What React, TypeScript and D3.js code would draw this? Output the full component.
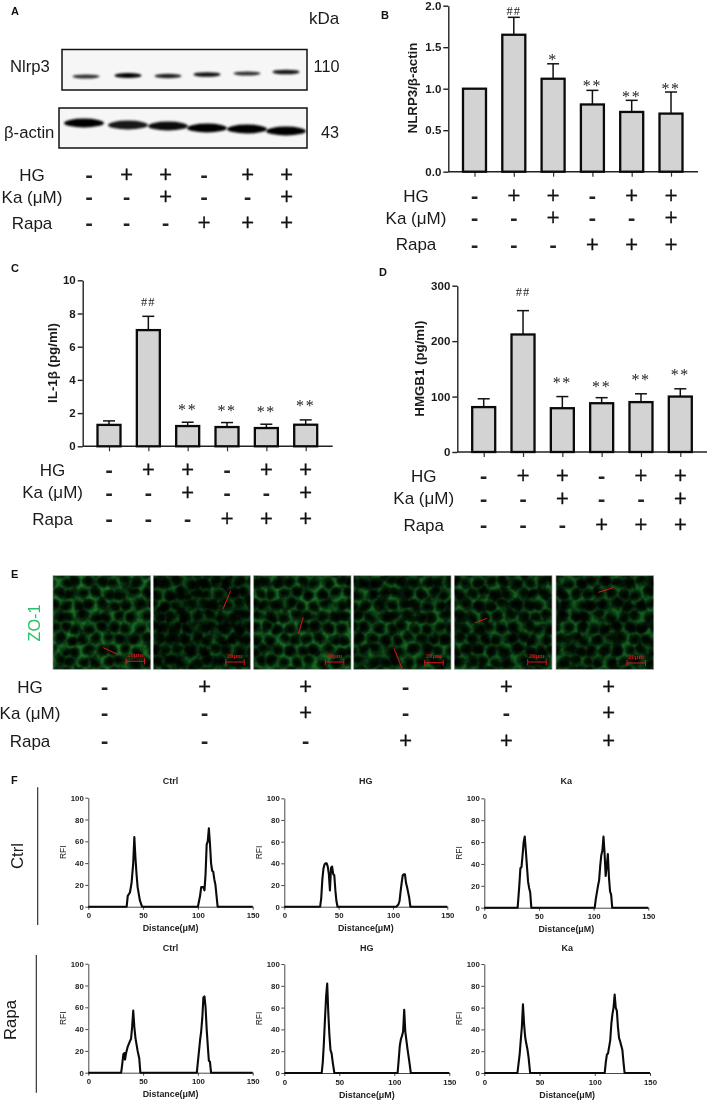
import React, { useEffect, useRef } from 'react'
import * as d3 from 'd3'

const SANS = '"Liberation Sans", Arial, sans-serif'
const SERIF = '"Liberation Serif", serif'
const DEJAVU = '"DejaVu Sans", sans-serif'

// treatment rows shared by every panel
const rowLabels = ['HG', 'Ka (μM)', 'Rapa']
const hgSigns = ['-', '+', '+', '-', '+', '+']
const kaSigns = ['-', '-', '+', '-', '-', '+']
const rapaSigns = ['-', '-', '-', '+', '+', '+']
const signRows = [hgSigns, kaSigns, rapaSigns]

// bar panels
const nlrp3Values = [1, 1.65, 1.12, 0.81, 0.72, 0.7]
const nlrp3Errors = [1, 1.86, 1.3, 0.98, 0.86, 0.96]
const nlrp3Marks = ['', '##', '*', '**', '**', '**']
const nlrp3MarkLevels = [0, 1.94, 1.38, 1.07, 0.94, 1.03]
const nlrp3Ticks = [0, 0.5, 1, 1.5, 2]

const il1Values = [1.29, 7, 1.22, 1.16, 1.1, 1.3]
const il1Errors = [1.53, 7.83, 1.45, 1.43, 1.33, 1.59]
const il1Marks = ['', '##', '**', '**', '**', '**']
const il1MarkLevels = [0, 8.71, 2.39, 2.33, 2.23, 2.63]
const il1Ticks = [0, 2, 4, 6, 8, 10]

const hmgb1Values = [81, 212, 79, 88, 90, 100]
const hmgb1Errors = [96, 255, 100, 98, 105, 114]
const hmgb1Marks = ['', '##', '**', '**', '**', '**']
const hmgb1MarkLevels = [0, 289, 130, 123, 136, 145]
const hmgb1Ticks = [0, 100, 200, 300]

// western blot band strength, per lane
const nlrp3Bands = [0.62, 1, 0.75, 0.85, 0.62, 0.82]
const actinBands = [1, 0.9, 0.95, 1, 1, 1]

// ZO-1 image brightness, per panel
const zoBrightness = [0.95, 0.5, 0.9, 0.75, 0.7, 0.7]

// RFI line profiles: [distance, RFI]
const ctrlCtrl = [[0,0],[35,0],[36,10],[38,13],[39.5,22],[41,40],[42,64],[43,45],[44,30],[45,18],[47,6],[49,0],[100,0],[102,10],[103,18],[105,18],[106,15],[107,30],[108,57],[109,60],[110,72],[111,58],[112,40],[113,33],[114,32],[115,25],[116,20],[117,10],[118,0],[150,0]]
const ctrlHg = [[0,0],[33,0],[34,8],[35,25],[36,35],[37,39],[38,40],[39,40],[40,37],[41,30],[42,15],[43,36],[44,37],[45,30],[46,29],[47,15],[48,5],[49,0],[103,0],[105,2],[106,5],[107,14],[108,22],[109,29],[110,30],[111,30],[112,22],[113,18],[114,13],[115,8],[116,0],[150,0]]
const ctrlKa = [[0,0],[30.5,0],[32,20],[33,36],[34,37],[35,48],[36,60],[37,65],[38,52],[39,38],[40,24],[41,18],[42,14],[43,0],[101,0],[102,8],[104,20],[105,25],[106,38],[107,48],[108,52],[109,65],[110,50],[111,29],[112,38],[113,49],[114,28],[115,15],[116,12],[117,0],[150,0]]
const rapaCtrl = [[0,0],[30,0],[31,8],[32,17],[33,18],[33.5,12],[34.5,18],[36,24],[38,29],[39,31],[40,42],[41,57],[42,42],[43,32],[44,26],[45,20],[46.5,13],[47.5,0],[99,0],[100,10],[102,30],[103,38],[104,50],[105,69],[106,70],[107,60],[108,40],[109,25],[110,11],[111,10],[112,0],[150,0]]
const rapaHg = [[0,0],[34,0],[35,10],[36,28],[37,50],[38,70],[39,82],[40,55],[41,35],[42,21],[43,18],[44,10],[45.5,0],[103,0],[104,12],[105,25],[106,31],[107,34],[108,38],[109,58],[110,38],[111,30],[112,22],[113,15],[114,8],[115,0],[150,0]]
const rapaKa = [[0,0],[30,0],[32,17],[33,30],[34,42],[35,63],[36,45],[37,33],[38,27],[39,22],[40,15],[41.5,0],[109,0],[110,10],[111,17],[112,18],[113,24],[114,30],[115,45],[116,54],[117,60],[118,72],[119,60],[120,57],[121,42],[122,32],[123,29],[124,25],[125,21],[126,10],[127,0],[150,0]]

// small hand offsets so the cell sheet in panel E doesn't look like a grid
const cellJitter = [1.6, -2.2, 0.7, 2.4, -1.3, -0.4, 2.1, -2.6, 1.1, -0.9, 2.7, -1.8, 0.3, -2.9, 1.9, 0.9, -1.6, 2.5, -0.6, 1.4, -2.3]

export default function App() {
  const ref = useRef<SVGSVGElement>(null)

  useEffect(() => {
    const svg = d3.select(ref.current)
    svg.selectAll('*').remove()
    const defs = svg.append('defs')
    defs.append('filter').attr('id', 'bandBlur').attr('x', '-30%').attr('y', '-100%').attr('width', '160%').attr('height', '300%')
      .append('feGaussianBlur').attr('stdDeviation', '1.3 0.8')
    defs.append('filter').attr('id', 'cellBlur').append('feGaussianBlur').attr('stdDeviation', 0.8)
    defs.append('filter').attr('id', 'nucleusBlur').attr('x', '-40%').attr('y', '-40%').attr('width', '180%').attr('height', '180%')
      .append('feGaussianBlur').attr('stdDeviation', 1)
    // patchy staining: dark blotches from turbulence
    const patch = defs.append('filter').attr('id', 'patches').attr('x', 0).attr('y', 0).attr('width', '100%').attr('height', '100%')
    patch.append('feTurbulence').attr('type', 'fractalNoise').attr('baseFrequency', 0.09).attr('numOctaves', 3).attr('seed', 4)
    patch.append('feColorMatrix').attr('values', '0 0 0 0 0  0 0 0 0 0  0 0 0 0 0  3 0 0 0 -1.05')

    const text = (x: number, y: number, s: string, size: number, opts: any = {}) => {
      const t = svg.append('text')
        .attr('x', x).attr('y', y).text(s)
        .attr('font-family', opts.family || SANS)
        .attr('font-size', size)
        .attr('font-weight', opts.weight || 'normal')
        .attr('fill', opts.fill || '#1a1a1a')
        .attr('text-anchor', opts.anchor || 'start')
      if (opts.rotate) t.attr('transform', `rotate(-90 ${x} ${y})`)
      if (opts.spacing) t.attr('letter-spacing', opts.spacing)
      return t
    }

    // panel letters
    const letters: [string, number, number][] = [['A', 11, 15], ['B', 381, 19], ['C', 11, 272], ['D', 379, 276], ['E', 11, 578], ['F', 11, 784]]
    letters.forEach(([s, x, y]) => text(x, y, s, 11, { weight: 'bold', fill: '#111' }))

    // the HG / Ka / Rapa table under each panel
    const signTable = (columns: number[], rowY: number[], labelX: number) => {
      rowLabels.forEach((lab, r) => {
        text(labelX, rowY[r] + 6, lab, 17, { anchor: 'middle' })
        signRows[r].forEach((s, i) => {
          if (s === '+') {
            text(columns[i], rowY[r] + 5.4, '+', 17, { anchor: 'middle', family: DEJAVU, fill: '#111' })
              .attr('stroke', '#111').attr('stroke-width', 0.4)
          } else {
            text(columns[i], rowY[r] + 7.4, '-', 18.5, { anchor: 'middle', family: DEJAVU, weight: 'bold', fill: '#222' })
          }
        })
      })
    }

    // A: western blots
    const laneA = [86, 128, 168, 207, 247, 286]
    const actinLane = [84, 128, 168, 207, 247, 286]
    const nlrp3BandY = [76.5, 75.5, 76, 74.5, 73.5, 72]
    const actinBandY = [123, 125, 126, 128, 129, 131]
    const blot = (x0: number, x1: number, y0: number, y1: number) =>
      svg.append('rect').attr('x', x0).attr('y', y0).attr('width', x1 - x0).attr('height', y1 - y0)
        .attr('fill', '#f6f6f6').attr('stroke', '#111').attr('stroke-width', 1.5)
    blot(62, 307, 49.5, 90)
    blot(59, 307, 108, 148)
    const bandStrength = d3.scaleLinear().domain([0.5, 1]).range([0.75, 1])
    svg.append('g').selectAll('ellipse').data(nlrp3Bands).join('ellipse')
      .attr('cx', (_, i) => laneA[i]).attr('cy', (_, i) => nlrp3BandY[i])
      .attr('rx', 13.5).attr('ry', d => 1 + d * 1.6)
      .attr('fill', '#000').attr('opacity', d => bandStrength(d))
      .attr('filter', 'url(#bandBlur)')
    svg.append('g').selectAll('ellipse').data(actinBands).join('ellipse')
      .attr('cx', (_, i) => actinLane[i]).attr('cy', (_, i) => actinBandY[i])
      .attr('rx', 20).attr('ry', 4.4)
      .attr('fill', '#000').attr('opacity', d => d)
      .attr('filter', 'url(#bandBlur)')
    text(324, 24, 'kDa', 17, { anchor: 'middle' })
    text(10, 72, 'Nlrp3', 16.7)
    text(326.5, 72, '110', 16.2, { anchor: 'middle' })
    text(4, 137.7, 'β-actin', 16.7)
    text(330, 137.7, '43', 16.2, { anchor: 'middle' })
    signTable([89, 126.7, 165.7, 204, 247.7, 286.7], [174.7, 197, 223], 32)

    // B, C, D: bar charts
    const barPanel = (cfg: any) => {
      const y = d3.scaleLinear().domain(cfg.domain).range(cfg.yRange)
      const x = d3.scalePoint<number>().domain(d3.range(6)).range(cfg.xRange)
      const g = svg.append('g')
      const yAxis = g.append('g').attr('transform', `translate(${cfg.axisX},0)`)
        .call(d3.axisLeft(y).tickValues(cfg.ticks).tickSize(5).tickSizeOuter(0).tickPadding(2).tickFormat(d3.format(cfg.format)))
      yAxis.selectAll('text').attr('font-family', SANS).attr('font-weight', 'bold').attr('font-size', 11.5).attr('fill', '#1a1a1a')
      yAxis.selectAll('line,path').attr('stroke', '#222').attr('stroke-width', 1.4)

      const xAxis = g.append('g').attr('transform', `translate(0,${cfg.yRange[0]})`)
        .call(d3.axisBottom(x).tickSize(5).tickFormat(() => ''))
      xAxis.select('.domain').remove()
      xAxis.selectAll('line').attr('stroke', '#333').attr('stroke-width', 1.2)
      g.append('line').attr('x1', cfg.axisX).attr('x2', cfg.axisEnd)
        .attr('y1', cfg.yRange[0]).attr('y2', cfg.yRange[0]).attr('stroke', '#222').attr('stroke-width', 1.4)

      cfg.values.forEach((v: number, i: number) => {
        const cx = x(i) as number
        if (cfg.errors[i] > v) {
          g.append('line').attr('x1', cx).attr('x2', cx).attr('y1', y(v)).attr('y2', y(cfg.errors[i])).attr('stroke', '#111').attr('stroke-width', 1.5)
          g.append('line').attr('x1', cx - 6).attr('x2', cx + 6).attr('y1', y(cfg.errors[i])).attr('y2', y(cfg.errors[i])).attr('stroke', '#111').attr('stroke-width', 1.5)
        }
        g.append('rect').attr('x', cx - 11.5).attr('width', 23).attr('y', y(v)).attr('height', cfg.yRange[0] - y(v))
          .attr('fill', '#d3d3d3').attr('stroke', '#0a0a0a').attr('stroke-width', 2.3)
        const mark = cfg.marks[i]
        if (mark) {
          const isHash = mark === '##'
          const my = y(cfg.levels[i]) + (isHash ? 4.2 : 8)
          text(cx, my, mark, isHash ? 12.5 : 16, { anchor: 'middle', family: SERIF, fill: '#222', spacing: isHash ? 1 : 1.6 })
        }
      })
      text(cfg.titleX, cfg.titleY, cfg.title, 13.3, { weight: 'bold', rotate: true, anchor: 'middle' })
      signTable(x.domain().map(i => x(i) as number), cfg.rows, cfg.labelX)
    }

    barPanel({
      values: nlrp3Values, errors: nlrp3Errors, marks: nlrp3Marks, levels: nlrp3MarkLevels, ticks: nlrp3Ticks,
      domain: [0, 2], yRange: [171.7, 5.7], xRange: [474.5, 671], axisX: 448.3, axisEnd: 698, format: '.1f',
      title: 'NLRP3/β-actin', titleX: 416.5, titleY: 88, rows: [195.7, 217.7, 244.3], labelX: 416,
    })
    barPanel({
      values: il1Values, errors: il1Errors, marks: il1Marks, levels: il1MarkLevels, ticks: il1Ticks,
      domain: [0, 10], yRange: [446.3, 280.3], xRange: [109, 305.7], axisX: 82.7, axisEnd: 332.7, format: 'd',
      title: 'IL-1β (pg/ml)', titleX: 56.7, titleY: 363, rows: [470, 492.3, 519], labelX: 52.6,
    })
    barPanel({
      values: hmgb1Values, errors: hmgb1Errors, marks: hmgb1Marks, levels: hmgb1MarkLevels, ticks: hmgb1Ticks,
      domain: [0, 300], yRange: [452, 285.7], xRange: [483.7, 680.3], axisX: 457.3, axisEnd: 707, format: 'd',
      title: 'HMGB1 (pg/ml)', titleX: 424, titleY: 368.7, rows: [476, 498.3, 525], labelX: 423.7,
    })

    // E: ZO-1 staining, drawn as a voronoi cell sheet with dark nuclei on top
    const panelX: [number, number][] = [[53, 150.7], [153.3, 250.3], [253.7, 351], [353.7, 451], [454.3, 552], [556, 653.7]]
    const panelTop = 575.7
    const panelBottom = 669.3
    const redLines = [[103.3, 647.7, 117.7, 654.3], [230.7, 590.7, 223, 609], [303.3, 617.3, 298.3, 634], [394, 648.3, 402.3, 669.3], [475, 622.7, 487.3, 618.3], [598.3, 592.3, 613.3, 587.7]]
    const scaleBars = [[126, 661.3], [225.7, 662], [325.3, 662], [424.7, 662.7], [527.7, 662], [627, 663]]
    panelX.forEach(([x0, x1], p) => {
      const w = x1 - x0
      const h = panelBottom - panelTop
      const clipId = `zoClip${p}`
      defs.append('clipPath').attr('id', clipId).append('rect').attr('x', x0).attr('y', panelTop).attr('width', w).attr('height', h)
      const g = svg.append('g').attr('clip-path', `url(#${clipId})`)
      const base = d3.interpolateRgb('#05200a', '#0d4617')(zoBrightness[p])
      g.append('rect').attr('x', x0).attr('y', panelTop).attr('width', w).attr('height', h).attr('fill', base)
      const sites: [number, number][] = []
      d3.range(0, 10).forEach(row => d3.range(0, 10).forEach(col => {
        const a = cellJitter[(row * 7 + col * 3 + p * 5) % cellJitter.length]
        const b = cellJitter[(row * 4 + col * 11 + p * 2 + 6) % cellJitter.length]
        sites.push([x0 - 7 + col * 12.4 + (row % 2) * 6.2 + a, panelTop - 5 + row * 11.4 + b * 0.8])
      }))
      const vor = d3.Delaunay.from(sites).voronoi([x0 - 12, panelTop - 12, x1 + 12, panelBottom + 12])
      const edges = d3.interpolateRgb('#0a3f13', '#2a9438')(zoBrightness[p])
      g.append('path').attr('d', vor.render()).attr('fill', 'none').attr('stroke', edges)
        .attr('stroke-width', 1.3).attr('filter', 'url(#cellBlur)')
      g.selectAll('ellipse').data(sites).join('ellipse')
        .attr('cx', d => d[0]).attr('cy', d => d[1])
        .attr('rx', (_, i) => 4.8 + cellJitter[i % cellJitter.length] * 0.2)
        .attr('ry', (_, i) => 3.8 + cellJitter[(i + 5) % cellJitter.length] * 0.15)
        .attr('transform', (d, i) => `rotate(${cellJitter[(i + 3) % cellJitter.length] * 14} ${d[0]} ${d[1]})`)
        .attr('fill', '#020f05').attr('filter', 'url(#nucleusBlur)')
      g.append('rect').attr('x', x0).attr('y', panelTop).attr('width', w).attr('height', h)
        .attr('filter', 'url(#patches)').attr('opacity', 0.6 + (1 - zoBrightness[p]) * 0.5)
      svg.append('rect').attr('x', x0).attr('y', panelTop).attr('width', w).attr('height', h)
        .attr('fill', 'none').attr('stroke', '#9a9a9a').attr('stroke-width', 0.7)

      const [lx1, ly1, lx2, ly2] = redLines[p]
      svg.append('line').attr('x1', lx1).attr('y1', ly1).attr('x2', lx2).attr('y2', ly2).attr('stroke', '#e0141c').attr('stroke-width', 1)
      const [bx, by] = scaleBars[p]
      const bar = d3.path()
      bar.moveTo(bx, by); bar.lineTo(bx + 18.5, by)
      bar.moveTo(bx, by - 3); bar.lineTo(bx, by + 3)
      bar.moveTo(bx + 18.5, by - 3); bar.lineTo(bx + 18.5, by + 3)
      svg.append('path').attr('d', bar.toString()).attr('fill', 'none').attr('stroke', '#d8121a').attr('stroke-width', 1)
      text(bx + 9, by - 4.5, '20μm', 6.6, { anchor: 'middle', family: SERIF, weight: 'bold', fill: '#c8141a' })
    })
    text(40, 623, 'ZO-1', 16.2, { rotate: true, anchor: 'middle', fill: '#27c266' })
    signTable([104.7, 204.7, 305.7, 405.7, 506.3, 608.7], [686.7, 712.7, 740.7], 30)

    // F: RFI line profiles
    const profile = (cfg: any) => {
      const x = d3.scaleLinear().domain([0, 150]).range([cfg.x0, cfg.x1])
      const y = d3.scaleLinear().domain([0, 100]).range([cfg.y0, cfg.y1])
      const g = svg.append('g')
      const ax = g.append('g').attr('transform', `translate(0,${cfg.y0})`)
        .call(d3.axisBottom(x).tickValues([0, 50, 100, 150]).tickSize(3).tickSizeOuter(0).tickPadding(3))
      const ay = g.append('g').attr('transform', `translate(${cfg.x0},0)`)
        .call(d3.axisLeft(y).tickValues([0, 20, 40, 60, 80, 100]).tickSize(3).tickSizeOuter(0).tickPadding(1.5))
      ;[ax, ay].forEach(a => {
        a.selectAll('text').attr('font-family', SANS).attr('font-weight', 'bold').attr('font-size', 7.8).attr('fill', '#222')
        a.selectAll('line,path').attr('stroke', '#333').attr('stroke-width', 0.9)
      })
      const line = d3.line<number[]>().x(d => x(d[0])).y(d => y(d[1]))
      g.append('path').datum(cfg.data).attr('d', line).attr('fill', 'none').attr('stroke', '#0a0a0a').attr('stroke-width', 2.1).attr('stroke-linejoin', 'round')
      const cx = (cfg.x0 + cfg.x1) / 2
      text(cx, cfg.titleY, cfg.title, 9, { anchor: 'middle', weight: 'bold', fill: '#222' })
      text(cx, cfg.y0 + 24.6, 'Distance(μM)', 8.9, { anchor: 'middle', weight: 'bold', fill: '#222' })
      text(cfg.x0 - 22, (cfg.y0 + cfg.y1) / 2, 'RFI', 8.5, { rotate: true, anchor: 'middle', fill: '#222' })
    }
    const titles = ['Ctrl', 'HG', 'Ka']
    ;[ctrlCtrl, ctrlHg, ctrlKa].forEach((data, i) => profile({
      data, title: titles[i], titleY: 784,
      x0: [88.3, 284.3, 484.3][i], x1: [252.7, 447.3, 648.3][i], y0: [906.7, 906.7, 907.7][i], y1: [797.7, 798.3, 798.3][i],
    }))
    ;[rapaCtrl, rapaHg, rapaKa].forEach((data, i) => profile({
      data, title: titles[i], titleY: 950.7,
      x0: [88.3, 284.3, 484.3][i], x1: [252.7, 449.3, 650][i], y0: [1072.7, 1073, 1073][i], y1: [963.7, 964, 964][i],
    }))
    svg.append('line').attr('x1', 37.7).attr('x2', 37.7).attr('y1', 787.3).attr('y2', 925).attr('stroke', '#222').attr('stroke-width', 1.1)
    svg.append('line').attr('x1', 36.3).attr('x2', 36.3).attr('y1', 955).attr('y2', 1092.7).attr('stroke', '#222').attr('stroke-width', 1.1)
    text(22.7, 856, 'Ctrl', 16.7, { rotate: true, anchor: 'middle' })
    text(16, 1020, 'Rapa', 16.7, { rotate: true, anchor: 'middle' })
  }, [])

  // the reference is a soft raster, so the whole drawing gets a faint blur
  return <svg ref={ref} width={709} height={1102} style={{ position: 'absolute', left: 0, top: 0, background: '#fff', filter: 'blur(0.3px)' }} />
}
